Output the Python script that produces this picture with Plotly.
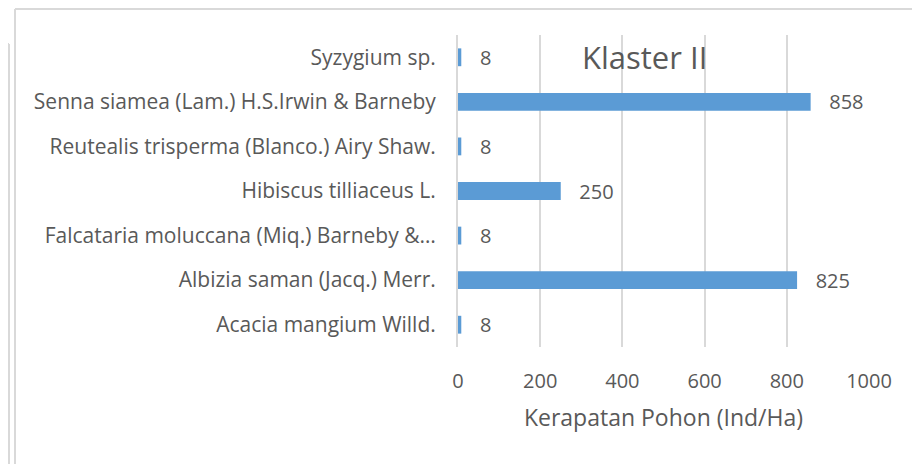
import plotly.graph_objects as go

# data (bottom to top, as plotted)
species = [
    "Acacia mangium Willd.",
    "Albizia saman (Jacq.) Merr.",
    "Falcataria moluccana (Miq.) Barneby &…",
    "Hibiscus tilliaceus L.",
    "Reutealis trisperma (Blanco.) Airy Shaw.",
    "Senna siamea (Lam.) H.S.Irwin & Barneby",
    "Syzygium sp.",
]
density = [8, 825, 8, 250, 8, 858, 8]
x_ticks = [0, 200, 400, 600, 800, 1000]

GREY_TXT = "#595959"
GRID = "#d9d9d9"
FONT = "Open Sans"

fig = go.Figure()
fig.add_trace(go.Bar(
    x=density,
    y=species,
    orientation="h",
    marker=dict(color="#5b9bd5", line=dict(width=0)),
    text=density,
    texttemplate="\u00a0\u00a0\u00a0%{x}",
    textposition="outside",
    constraintext="none",
    textfont=dict(family=FONT, size=20, color=GREY_TXT),
    cliponaxis=False,
))

# page is drawn with an 8px body offset; plot area in figure pixels
OFF = 8
FW, FH = 920 - OFF, 464 - OFF
L, R, T, B = 458 - OFF, 869 - OFF, 35 - OFF, 347 - OFF
W, H = R - L, B - T


def px(x):
    x = x - OFF
    return (x - L) / W


def py(y):
    y = y - OFF
    return (B - y) / H


line = dict(color=GRID, width=2)
shapes = [
    # main chart frame
    dict(type="line", xref="paper", yref="paper", x0=px(15), x1=px(15), y0=py(9), y1=py(470), line=line),
    dict(type="line", xref="paper", yref="paper", x0=px(15), x1=px(925), y0=py(9), y1=py(9), line=line),
    # frame of chart behind
    dict(type="line", xref="paper", yref="paper", x0=px(9), x1=px(9), y0=py(44), y1=py(470), line=line),
    dict(type="line", xref="paper", yref="paper", x0=px(0), x1=px(9), y0=py(44), y1=py(44), line=line),
]

fig.update_layout(
    width=FW,
    height=FH,
    margin=dict(l=L, r=FW - R, t=T, b=FH - B),
    paper_bgcolor="white",
    plot_bgcolor="white",
    bargap=0.6,
    showlegend=False,
    shapes=shapes,
    font=dict(family=FONT, color=GREY_TXT),
    annotations=[dict(
        text="Klaster II", xref="paper", yref="paper", x=px(644), y=py(57),
        xanchor="center", yanchor="middle", showarrow=False,
        font=dict(family=FONT, size=31, color=GREY_TXT),
    )],
    xaxis=dict(
        range=[0, 1000],
        tickvals=x_ticks,
        showgrid=True,
        gridcolor=GRID,
        gridwidth=2,
        zeroline=False,
        showline=False,
        tickfont=dict(family=FONT, size=20, color=GREY_TXT),
        ticklabelstandoff=20,
        title=dict(text="Kerapatan Pohon (Ind/Ha)", standoff=16,
                   font=dict(family=FONT, size=23, color=GREY_TXT)),
    ),
    yaxis=dict(
        categoryorder="array",
        categoryarray=species,
        range=[-0.5, 6.5],
        showgrid=False,
        zeroline=False,
        showline=True,
        linecolor=GRID,
        linewidth=2,
        tickfont=dict(family=FONT, size=21, color=GREY_TXT),
        ticklabelstandoff=16,
    ),
)

fig.write_html("out.html")
